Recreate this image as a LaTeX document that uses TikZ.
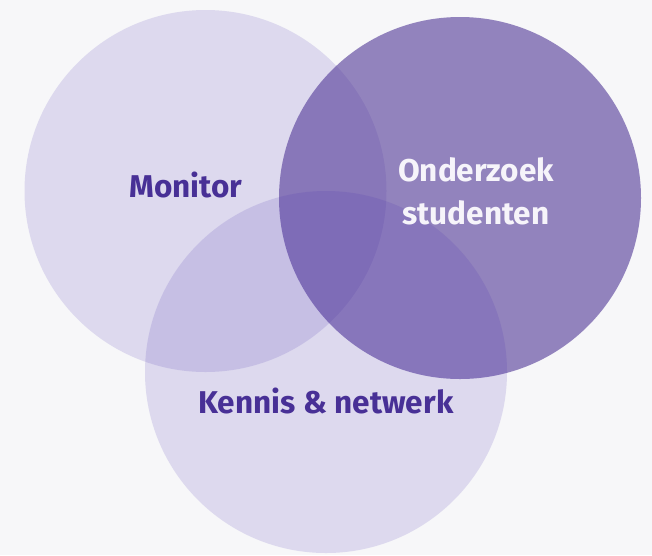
\documentclass[tikz,border=0pt]{standalone}
\usepackage{fontspec}
\setmainfont{Fira Sans}
\definecolor{bgcol}{RGB}{247,247,249}
\definecolor{lightpurple}{RGB}{73,47,177}
\definecolor{midpurple}{RGB}{80,55,150}
\definecolor{labeldark}{RGB}{72,48,150}
\definecolor{labellight}{RGB}{246,244,250}
\begin{document}
\begin{tikzpicture}[x=1pt,y=-1pt,
  venn/.style={circle, inner sep=0pt, minimum size=362pt, draw=none},
  lbl/.style={font=\bfseries\fontsize{31.5}{43}\selectfont, align=center, anchor=base}]
  \fill[bgcol] (0,0) rectangle (652,555);
  \useasboundingbox (0,0) rectangle (652,555);
  \node[venn, fill=lightpurple, fill opacity=0.15] (monitor) at (205.5,191) {};
  \node[venn, fill=midpurple, fill opacity=0.6] (onderzoek) at (460,198) {};
  \node[venn, fill=lightpurple, fill opacity=0.15] (kennis) at (326,372) {};
  \node[lbl, text=labeldark] (tmonitor) at (186,197) {Monitor};
  \node[lbl, text=labellight, anchor=center] (tonderzoek) at (476,191) {Onderzoek\\studenten};
  \node[lbl, text=labeldark] (tkennis) at (326,413) {Kennis \& netwerk};
\end{tikzpicture}
\end{document}
